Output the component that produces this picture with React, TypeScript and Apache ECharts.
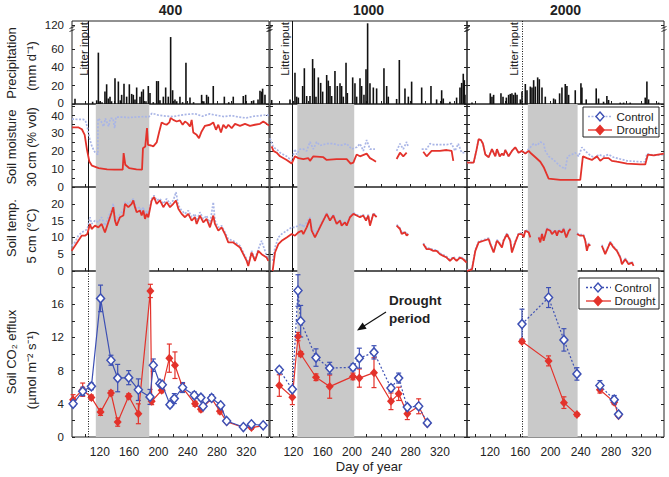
import React, { useEffect, useRef } from 'react';
import * as echarts from 'echarts';

const FONT = '"Liberation Sans", Arial, Helvetica, sans-serif';
const RED = '#e3322b';
const PALE = '#a9b5e6';
const BLUE = '#3d50b4';
const SHADE = '#c9c9c9';
const INK = '#222';

// ---- study sites and events (day of year) ----
const sites = ['400', '1000', '2000'];
const litterDay = [104, 118.5, 162.5];
const droughtStart = [114.5, 125.3, 170];
const droughtEnd = [187.5, 203, 235.8];

// ---- daily precipitation, [day, mm] ----
const rain400 = [
  [86.1, 5.8], [110.2, 2.5], [115.7, 4], [118, 56], [120.2, 3], [123, 2], [127, 13.5], [129.3, 21.5], [131.6, 6],
  [133.9, 8], [136, 3], [140.7, 28], [145.3, 24.5], [148, 4], [149.8, 10], [153, 22], [156.6, 8], [160.3, 21.5],
  [163.5, 11], [165.7, 10], [168, 5], [170.3, 18], [174.8, 8], [177.1, 13.5], [179.4, 16], [183, 3], [186.2, 19.6],
  [188.5, 12], [193, 2], [197.6, 25], [199.9, 25], [202.1, 4], [206.7, 8], [209.9, 18], [213.5, 8], [216.7, 73],
  [219.4, 15], [222.6, 5], [225, 3], [229.4, 8], [233, 2], [237.6, 45], [243.1, 7], [248, 2], [259, 10], [262, 3],
  [265.8, 10], [268.1, 8], [274.9, 19.6], [290, 8], [296, 2], [302.2, 8], [315.9, 8.7], [319.1, 10], [327.3, 3.3],
  [330, 4], [336, 5], [338.7, 14.5], [341, 13.5], [342.3, 16.7], [345.5, 10],
];
const rain1000 = [
  [90.3, 4.4], [115.3, 5], [122.1, 34], [124.4, 8], [126.7, 7], [132.6, 19.6], [134.9, 39], [138.1, 8.7], [142.6, 8.7],
  [146.2, 49], [148.5, 39], [150.8, 8], [154, 29], [157.2, 23], [159.9, 13.5], [165.4, 31.6], [167.6, 25.5],
  [169.9, 19.6], [172.2, 8.7], [176.7, 36], [179.9, 19.6], [183.6, 22.5], [185.8, 19.6], [188.1, 8], [191.8, 45],
  [193.6, 12], [200.9, 29], [204, 22.5], [206.3, 8], [210.9, 28], [213.1, 19.6], [216.3, 10], [219.1, 38],
  [221.3, 88], [224.5, 22.5], [229.1, 18], [233.6, 17], [243.6, 39], [247.3, 19.6], [249.5, 8], [260.9, 5.5],
  [264.6, 48], [272.3, 17], [276.9, 8], [281.4, 24.4], [295.1, 18], [307.8, 19.6], [315.5, 5], [322.4, 15],
  [324.6, 6], [333.7, 2.5], [342.8, 7], [347.4, 18], [349.7, 23], [351.9, 33], [353.3, 26], [354.2, 10],
];
const rain2000 = [
  [96.2, 1.5], [120.4, 11.6], [122.6, 8], [124.8, 10], [134.5, 11.6], [137.2, 8], [141.6, 7], [144.6, 10], [146.8, 11],
  [149, 11.6], [151.2, 10], [153.4, 12.4], [155.7, 10], [160.1, 5], [162.3, 13.5], [166.7, 21.8], [168.9, 15],
  [173.3, 19], [175.5, 18], [177.7, 26], [179.9, 19], [183, 29], [185.2, 27], [188.7, 18], [193.1, 8], [204.1, 6],
  [206.3, 5], [212, 11.6], [215.1, 18], [219.5, 21.8], [221.7, 19.6], [223.9, 10], [232.7, 15], [240.2, 22.5],
  [241.5, 18], [247.2, 5], [260.4, 17], [263.5, 6], [270.1, 2.5], [274.5, 8.7], [276.7, 4.4], [292.2, 1.5],
  [296.6, 1.5], [305.4, 1.5], [325.2, 7], [327.4, 24.4], [329.6, 5], [342.8, 1.5],
];

// ---- soil moisture at 30 cm, [day, % vol]; '-' marks missing records ----
const moist400Control = [
  [82, 37.6], [90, 37.5], [97, 37.5], [100.2, 37], [103, 33], [106, 27], [109.3, 22.4], [113, 19.5], [116.1, 18.4],
  [117.3, 18], [117.5, 38], [121, 37], [125.2, 33.5], [127.5, 38], [132, 33.5], [134.3, 38], [138, 38], [140.2, 32.6],
  [142, 38.7], [150, 38.8], [160, 38.5], [170, 38.8], [180, 39], [186.7, 38.8], [191.2, 40.9], [200, 39.8],
  [210, 39.3], [220, 39], [230, 39.8], [240, 40.3], [250, 40.6], [260, 39.2], [270, 40.5], [280, 39.7], [290, 39],
  [300, 39.6], [310, 38.7], [320, 38.3], [330, 39.2], [340, 39.6], [348, 40], [351, 39.5],
];
const moist400Drought = [
  [82, 33.1], [91, 33], [95.5, 32], [99.3, 28.9], [102.5, 20.6], [105.7, 14.1], [109.3, 11.8], [118.4, 10.5],
  [130, 9.8], [140, 9.6], [151.2, 9.6], [152.5, 18.8], [154.8, 12.3], [160, 10.5], [170, 9.8], [177.6, 9.6],
  [178.9, 21.5], [182, 22.4], [184.4, 32.6], [185.8, 23.3], [190, 23], [193, 22.5], [197.6, 24.7], [201.2, 30.8],
  [204.4, 35.8], [207.6, 35], [211.2, 34.5], [214.9, 35.8], [216.7, 38.2], [220.3, 37.2], [224.9, 36.3],
  [229.4, 36.9], [233.1, 34.5], [236.3, 36.3], [239.5, 35.4], [243.1, 33.5], [245.4, 37.2], [247.6, 30.2],
  [252.2, 28.9], [255.4, 27.1], [259, 30.8], [263.6, 33.9], [270.4, 34.5], [274.9, 35.8], [278.6, 31.7],
  [281.8, 34.5], [285.4, 30.2], [288.6, 34.5], [292.3, 32.6], [295.5, 34.5], [300, 32.6], [304.6, 35],
  [311.4, 33.9], [318.2, 35], [325, 33.9], [331.8, 34.5], [338.7, 35], [343.2, 36.3], [347.8, 35], [351, 34],
];
const moist1000Control = [
  [88, 27], [92.6, 22], [97.1, 21], [101.7, 19], [110.8, 17], [117.6, 14.5], [122.1, 21], [124.4, 18], [129, 21],
  [133.5, 21], [138.1, 20], [142.6, 25], [147.2, 21], [151.7, 25], [156.3, 23], [165.4, 24], [174.5, 24],
  [183.6, 23], [192.7, 24], [199.5, 21], [206.3, 22], [210.9, 24], [215.4, 20], [220, 26], [224.5, 21],
  [231.3, 21], [245, '-'], [260.9, 20], [265.5, 24], [270, 21], [274.6, 25], [276.9, 22], [285, '-'], [295.1, 21],
  [301.9, 21], [306.4, 24], [311, 23.5], [329.2, 23.5], [336, 24], [340.6, 20], [345.1, 24], [349.7, 19],
  [354.2, 19],
];
const moist1000Drought = [
  [90.3, 22.5], [92.6, 20], [97.1, 19], [101.7, 17], [110.8, 15], [117.6, 13], [122.1, 17], [126.7, 16],
  [133.5, 15.5], [140.3, 16], [142.6, 14.5], [147.2, 17], [160.8, 16.5], [165.4, 15], [179, 15.5], [192.7, 15.5],
  [198.1, 13], [201.8, 13.5], [206.3, 18], [210.9, 17], [220, 18.5], [224.5, 16], [229.1, 15], [232.7, 14],
  [245, '-'], [260.9, 15.5], [265.5, 19], [270, 17], [274.6, 19], [285, '-'], [297.3, 19.5], [301.9, 17],
  [308.7, 20], [320.1, 20], [329.2, 20.5], [336, 20], [338.3, 14.5],
];
const moist2000Control = [
  [89.6, 13.5], [98.4, 13.5], [101.9, 20], [105, 26.5], [108.1, 26], [110.7, 24], [113.8, 18], [118.2, 16.5],
  [122.6, 21], [127, 17], [129.2, 21], [132.8, 17], [135.8, 18.5], [138, 17.5], [140.2, 20.5], [144.6, 17],
  [149, 20], [153.4, 22], [157.8, 19], [162.3, 20], [166.7, 18.5], [171.1, 21], [173.3, 22], [177.7, 24],
  [182.1, 23], [186.5, 25], [190.9, 24], [193.1, 20], [197.5, 17], [204.1, 15], [212.9, 11.5], [219.5, 10],
  [222.6, 17], [228.3, 18], [232.7, 19], [237.1, 17], [241.5, 22], [245.9, 20], [252.5, 17.5], [259.1, 16],
  [263.5, 18], [270.1, 17], [276.7, 18], [283.3, 16.5], [301, 14.5], [318.6, 14], [325.2, 14], [327.4, 18.5],
  [336.2, 17.5], [349.8, 18],
];
const moist2000Drought = [
  [89.6, 13.5], [98.4, 13.5], [101.9, 20], [105, 26.5], [108.1, 26], [110.7, 24], [113.8, 18], [118.2, 16.5],
  [122.6, 21], [127, 17], [129.2, 21], [132.8, 17], [135.8, 18.5], [138, 17.5], [140.2, 20.5], [144.6, 17],
  [149, 20], [153.4, 22], [157.8, 19], [162.3, 20], [166.7, 18.5], [171.1, 20], [173.3, 19], [180, 16.5],
  [186.5, 14], [191, 11], [194.5, 7.5], [197.5, 4.6], [212.9, 4], [239.3, 4], [242.8, 17], [248.1, 16],
  [254.7, 15], [261.3, 17], [265.7, 14.5], [270.1, 16], [276.7, 16], [281.1, 14.5], [287.7, 14], [301, 13],
  [318.6, 12.5], [325.2, 12.5], [328.7, 18], [336.2, 17.5], [349.8, 18.5],
];

// ---- soil temperature at 5 cm, [day, °C] ----
const temp400Control = [
  [81.5, 7.5], [86, 8.5], [90.6, 10.5], [95.2, 11.5], [99.7, 12], [102.9, 12.5], [106.6, 16], [108.8, 14],
  [113.4, 15], [118, 14.5], [122.5, 16], [127, 13.5], [131.6, 16], [136.2, 18.5], [138.4, 20], [140.7, 16.5],
  [143, 15], [147.5, 17], [152.1, 18], [154.4, 20.5], [158.9, 20], [163.5, 21], [165.7, 21.5], [168, 20],
  [170.3, 18.5], [174.8, 19], [177.1, 17.5], [179.4, 19], [181.7, 16.5], [183.9, 18], [186.2, 17], [190.8, 21.5],
  [194, 22.5], [197.6, 21], [202.1, 21.5], [206.7, 20], [211.2, 21.5], [215.8, 20], [220.3, 21], [224, 23.5],
  [227.2, 19.5], [231.7, 18], [236.3, 17], [240.8, 18], [245.4, 16], [249.9, 17], [252.2, 15], [256.7, 17.5],
  [261.3, 15.5], [265.8, 16.5], [270.4, 14], [274.9, 20.5], [277.2, 15], [281.8, 13], [286.3, 13.5],
  [290.9, 11.5], [295.4, 9.5], [302.2, 9], [311.4, 7.5], [315.9, 5.5], [320.5, 3.5], [322.7, 2], [327.3, 6],
  [331.8, 3.5], [336.4, 6.5], [340.9, 9], [347.8, 4.5], [350, 3.5],
];
const temp400Drought = [
  [81.5, 6], [86.1, 7.5], [90.6, 9], [95.2, 10.5], [99.7, 10.5], [102.9, 11], [106.6, 14], [108.8, 12.5],
  [113.4, 13.5], [118, 13], [122.5, 14], [127, 11.5], [131.6, 14.5], [136.2, 17.5], [138.4, 19], [140.7, 15],
  [143, 13.5], [147.5, 16], [152.1, 16.5], [154.4, 20], [158.9, 19], [163.5, 20], [165.7, 21], [168, 19],
  [170.3, 17.5], [174.8, 18], [177.1, 16.5], [179.4, 18], [181.7, 15.5], [183.9, 17], [186.2, 16], [190.8, 21],
  [194, 22], [197.6, 20], [202.1, 21], [206.7, 19], [211.2, 20.5], [215.8, 19], [220.3, 20], [224, 21],
  [227.2, 18.5], [231.7, 17], [236.3, 16], [240.8, 17], [245.4, 15], [249.9, 16], [252.2, 14], [256.7, 16.5],
  [261.3, 14.5], [265.8, 15.5], [270.4, 13], [274.9, 16.5], [277.2, 14], [281.8, 12], [286.3, 13], [290.9, 11],
  [295.4, 8.5], [302.2, 8.5], [311.4, 7], [315.9, 5], [320.5, 3], [322.7, 1.5], [327.3, 5.5], [331.8, 3],
  [336.4, 6], [340.9, 5], [347.8, 4], [350, 3],
];
const temp1000Control = [
  [91.6, 3], [94.8, 7], [99.4, 10], [103.9, 11], [110.8, 12], [117.6, 13], [122.1, 13], [126.7, 13.5], [131.2, 14],
  [133.5, 13], [138.1, 14.5], [142.6, 16], [144.9, 13], [149.4, 11], [154, 12.5], [158.5, 14.5], [165.4, 17.3],
  [169.9, 15.3], [174.5, 16.8], [179, 14.3], [183.6, 15.3], [185.8, 13.8], [190.4, 14.8], [192.7, 13.8],
  [197.2, 16.3], [201.8, 17.3], [206.3, 16.8], [210.9, 16.3], [215.4, 16.8], [219.1, 15.3], [222.2, 16.8],
  [224.5, 13.8], [229.1, 17.3], [233.6, 16.3], [245, '-'], [260.9, 13.8], [265.5, 12.8], [267.8, 11.3],
  [272.3, 11.8], [274.6, 10.8], [276.9, 11.3], [285, '-'], [297.3, 8.3], [301.9, 6.8], [306.4, 6.8], [311, 6.3],
  [315.5, 6.3], [320.1, 5.3], [324.6, 4.8], [329.2, 4.3], [333.7, 3.3], [338.3, 4.3], [342.8, 3.3], [347.4, 4.3],
  [351.9, 3.8], [356.5, 2.8],
];
const temp1000Drought = [
  [91.6, 0], [94.8, 5.5], [99.4, 8], [103.9, 9], [110.8, 10], [117.6, 11], [122.1, 10.5], [126.7, 11.5], [131.2, 12],
  [133.5, 11], [138.1, 13], [142.6, 15.5], [144.9, 12], [149.4, 10], [154, 12], [158.5, 14], [165.4, 17],
  [169.9, 15], [174.5, 16.5], [179, 14], [183.6, 15], [185.8, 13.5], [190.4, 14.5], [192.7, 13.5], [197.2, 16],
  [201.8, 17], [206.3, 16.5], [210.9, 16], [215.4, 16.5], [219.1, 15], [222.2, 16.5], [224.5, 13.5], [229.1, 17],
  [233.6, 16], [245, '-'], [260.9, 13.5], [265.5, 12.5], [267.8, 11], [272.3, 11.5], [274.6, 10.5], [276.9, 11],
  [285, '-'], [297.3, 8], [301.9, 6.5], [306.4, 6.5], [311, 6], [315.5, 6], [320.1, 5], [324.6, 4.5], [329.2, 4],
  [333.7, 3], [338.3, 4], [342.8, 3], [347.4, 4], [351.9, 3.5], [356.5, 2.5],
];
const temp2000Control = [
  [89.6, 0.3], [96.2, 0.8], [100.6, 6.3], [105, 8.8], [111.6, 9.3], [118.2, 9.8], [120.4, 8.3], [124.8, 5.8],
  [129.2, 9.3], [131.4, 8.8], [135.8, 7.3], [138, 9.3], [142.4, 11.3], [146.8, 9.3], [149, 5.8], [153.4, 8.8],
  [157.8, 11.3], [162.3, 11.3], [164.5, 10.3], [166.7, 12.3], [171.1, 11.8], [173.3, 10.3], [178, '-'],
  [184.3, 10.3], [186.5, 8.8], [188.7, 11.3], [190.9, 9.3], [195.3, 12.8], [199.7, 12.3], [201.9, 11.3],
  [206.3, 12.3], [208.5, 10.8], [210.7, 12.3], [215.1, 11.8], [217.3, 12.8], [220.8, 10.3], [224.3, 12.3],
  [226.5, 12.8], [230, '-'], [234.9, 11.3], [239.3, 10.8], [243.7, 10.8], [245.9, 9.3], [248.1, 6.3], [250.3, 8.3],
  [252.5, 7.8], [260, '-'], [267.9, 7.8], [272.3, 5.3], [279, 8.8], [283.3, 7.3], [287.7, 6.3], [292.2, 4.3],
  [294.4, 2.3], [298.8, 3.8], [303.2, 2.3], [307.6, 2.8], [309.8, 1.8],
];
const temp2000Drought = [
  [89.6, 0], [96.2, 0.5], [100.6, 6], [105, 8.5], [111.6, 9], [118.2, 9.5], [120.4, 8], [124.8, 5.5], [129.2, 9],
  [131.4, 8.5], [135.8, 7], [138, 9], [142.4, 11], [146.8, 9], [149, 5.5], [153.4, 8.5], [157.8, 11], [162.3, 11],
  [164.5, 10], [166.7, 12], [171.1, 11.5], [173.3, 10], [178, '-'], [184.3, 10], [186.5, 8.5], [188.7, 11],
  [190.9, 9], [195.3, 12.5], [199.7, 12], [201.9, 11], [206.3, 12], [208.5, 10.5], [210.7, 12], [215.1, 11.5],
  [217.3, 12.5], [220.8, 10], [224.3, 12], [226.5, 12.5], [230, '-'], [234.9, 11], [239.3, 10.5], [243.7, 10.5],
  [245.9, 9], [248.1, 6], [250.3, 8], [252.5, 7.5], [260, '-'], [267.9, 7.5], [272.3, 5], [279, 8.5], [283.3, 7],
  [287.7, 6], [292.2, 4], [294.4, 2], [298.8, 3.5], [303.2, 2], [307.6, 2.5], [309.8, 1.5],
];

// ---- soil CO2 efflux, [day, µmol m-2 s-1, standard error]; '-' marks a break ----
const co2_400Control = [
  [83.5, 4.0, 0.3], [96.6, 5.5, 0.5], [108.5, 6.1, 0.4], [121, 16.7, 1.6], [135.2, 9.25, 0.6], [144.4, 7.1, 1.65],
  [159.4, 7.15, 0.85], [172.6, 5.7, 1.3], [188.5, 4.83, 0.9], [193, 8.65, 0.75], [202, 6.44, 0.3], [205.3, 6.3, 0.3],
  [215.8, 3.9, 0.3], [221.7, 4.63, 0.6], [233, 5.96, 0.6], [249, 5.03, 0.4], [258, 4.75, 0.3], [261, 3.7, 0.25],
  [272.7, 4.7, 0.4], [285, 3.82, 0.3], [293.2, 1.93, 0.2], [316, 1.2, 0.15], [327, 1.53, 0.15], [343, 1.41, 0.1],
];
const co2_400Drought = [
  [83.5, 4.5, 0.6], [96.6, 5.7, 0.8], [108.5, 4.75, 0.3], [121, 3.0, 0.4], [135.2, 5.3, 0.3], [144.4, 1.8, 0.5],
  [159.4, 4.9, 0.3], [172.6, 2.8, 1.2], [189, 17.6, 0.8], [190.8, 4.3, 0.4], [204.5, 5.63, 0.3], [214.9, 9.5, 1.7],
  [222.6, 8.65, 1.6], [233, 5.96, 0.5], [250, 4.0, 0.3], [258, 3.34, 0.3], [272.7, 4.63, 0.3], [284, 3.1, 0.3],
  [293.2, 1.85, 0.2], [316, 1.15, 0.1], [327, 1.13, 0.2], [343, 1.35, 0.1],
];
const co2_1000Control = [
  [100.7, 8.1, 0.3], [118.5, 5.75, 0.3], [126.2, 17.65, 1.9], [129.9, 13.95, 1.9], [150.8, 9.57, 1.05],
  [169.5, 8.3, 0.7], [201.3, 8.4, 0.4], [210, 9.5, 1.2], [230, 10.2, 0.8], [253.2, 5.9, 0.4], [263.7, 7.1, 0.6],
  [275.5, 3.6, 0.3], [291, 3.7, 0.3], [302.8, 1.7, 0.2],
];
const co2_1000Drought = [
  [100.7, 6.2, 1.3], [118.5, 4.8, 0.9], [126.2, 12.1, 0.5], [129.9, 10.0, 0.3], [150.8, 7.2, 0.4],
  [169.5, 6.07, 1.4], [201.3, 7.3, 0.4], [210, 7.1, 1.1], [230, 7.75, 1.8], [253.2, 4.3, 1.0], [263.7, 5.2, 0.8],
  [275.5, 2.8, 0.7], [291, 3.7, 0.9], [302.8, 1.6, 0.2],
];
const co2_2000Control = [
  [162.3, 13.6, 1.8], [197.4, 16.8, 1.2], [217.7, 11.7, 1.35], [234.9, 7.6, 0.75], [250, '-', 0],
  [265.3, 6.2, 0.6], [284.2, 4.5, 0.5], [289.9, 2.73, 0.2],
];
const co2_2000Drought = [
  [162.3, 11.5, 0.2], [197.4, 9.17, 0.6], [217.7, 4.14, 0.7], [234.9, 2.7, 0.2], [250, '-', 0],
  [265.3, 5.7, 0.4], [284.2, 4.2, 0.3], [289.9, 2.57, 0.2],
];

// ---- axis ticks ----
const dayTicks = [100, 120, 140, 160, 180, 200, 220, 240, 260, 280, 300, 320, 340];
const dayLabels = [120, 160, 200, 240, 280, 320];
const rainTicks = [0, 20, 40, 60, 86]; // broken axis: the top mark stands for 120 mm
const moistTicks = [0, 5, 10, 15, 20, 25, 30, 35, 40, 45];
const moistLabels = [0, 10, 20, 30, 40];
const tempTicks = [0, 5, 10, 15, 20];
const co2Ticks = [0, 2, 4, 6, 8, 10, 12, 14, 16, 18];
const co2Labels = [0, 4, 8, 12, 16];

const rain = [rain400, rain1000, rain2000];
const moist = [
  [moist400Control, moist400Drought],
  [moist1000Control, moist1000Drought],
  [moist2000Control, moist2000Drought],
];
const temp = [
  [temp400Control, temp400Drought],
  [temp1000Control, temp1000Drought],
  [temp2000Control, temp2000Drought],
];
const co2 = [
  [co2_400Control, co2_400Drought],
  [co2_1000Control, co2_1000Drought],
  [co2_2000Control, co2_2000Drought],
];

// panel geometry
const COLS = [
  { left: 72, width: 197, min: 82, max: 351 },
  { left: 270, width: 197, min: 88, max: 357 },
  { left: 467, width: 197, min: 89.6, max: 350 },
];
const ROWS = [
  { top: 21, height: 83, max: 90.5, ticks: rainTicks, labels: rainTicks },
  { top: 104, height: 83, max: 46, ticks: moistTicks, labels: moistLabels },
  { top: 187, height: 84, max: 25, ticks: tempTicks, labels: tempTicks },
  { top: 271, height: 166, max: 20, ticks: co2Ticks, labels: co2Labels },
];

// y label text; the two labels that meet at the panel joint are nudged apart
function yLabel(r: number, v: number) {
  if (r === 0 && v === 86) return '120';
  if (r === 0 && v === 0) return '{lo|0}';
  if (r === 1 && v === 40) return '{hi|40}';
  return String(v);
}

function buildOption() {
  const grid: any[] = [];
  const xAxis: any[] = [];
  const yLeft: any[] = [];
  const yRight: any[] = [];
  const series: any[] = [];

  ROWS.forEach((row, r) => {
    COLS.forEach((col, c) => {
      const idx = r * 3 + c;
      grid.push({
        left: col.left, top: row.top, width: col.width, height: row.height,
        show: true, borderColor: INK, borderWidth: 1, backgroundColor: 'transparent',
      });
      xAxis.push({
        type: 'value', gridIndex: idx, min: col.min, max: col.max,
        axisLine: { show: false }, splitLine: { show: false },
        axisTick: {
          show: true, inside: true, length: 3, lineStyle: { color: INK },
          customValues: dayTicks.filter((d) => d > col.min && d < col.max),
        },
        axisLabel: {
          show: r === 3, customValues: dayLabels, color: INK, fontSize: 12, fontFamily: FONT, margin: 9,
        },
      });
      const yBase = {
        type: 'value', gridIndex: idx, min: 0, max: row.max,
        axisLine: { show: false }, splitLine: { show: false },
        axisTick: { show: true, inside: true, length: 3, lineStyle: { color: INK }, customValues: row.ticks },
      };
      yLeft.push({
        ...yBase,
        axisLabel: {
          show: c === 0, customValues: row.labels, color: INK, fontSize: 11.5, fontFamily: FONT, margin: 8,
          formatter: (v: number) => yLabel(r, v),
          rich: {
            lo: { fontSize: 11.5, fontFamily: FONT, color: INK, padding: [0, 0, 3, 0] },
            hi: { fontSize: 11.5, fontFamily: FONT, color: INK, padding: [3, 0, 0, 0] },
          },
        },
      });
      yRight.push({ ...yBase, position: 'right', axisLabel: { show: false } });

      const onAxes = { xAxisIndex: idx, yAxisIndex: idx };

      // drought shading
      if (r > 0) {
        series.push({
          type: 'custom', ...onAxes, z: 1, silent: true,
          data: [[droughtStart[c], droughtEnd[c]]],
          renderItem: (params: any, api: any) => {
            const cs = params.coordSys;
            const a = api.coord([api.value(0), 0])[0];
            const b = api.coord([api.value(1), 0])[0];
            return { type: 'rect', shape: { x: a, y: cs.y, width: b - a, height: cs.height }, style: { fill: SHADE } };
          },
        });
      }

      // litter input marker
      const dotted = c === 2 || r === 3;
      series.push({
        type: 'custom', ...onAxes, z: 3, silent: true,
        data: [[litterDay[c], 0]],
        renderItem: (params: any, api: any) => {
          const cs = params.coordSys;
          const x = Math.round(api.coord([api.value(0), 0])[0]) + 0.5;
          return {
            type: 'line',
            shape: { x1: x, y1: cs.y, x2: x, y2: cs.y + cs.height },
            style: { stroke: '#111', lineWidth: 1, lineDash: dotted ? [1, 1.5] : null },
          };
        },
      });

      if (r === 0) {
        series.push({
          type: 'bar', ...onAxes, data: rain[c], barWidth: 1.6, itemStyle: { color: '#111' }, z: 4,
        });
      } else if (r === 1 || r === 2) {
        const [ctl, dry] = r === 1 ? moist[c] : temp[c];
        series.push({
          type: 'line', ...onAxes, data: ctl, symbol: 'none', connectNulls: false, z: 4,
          lineStyle: { color: PALE, width: 1.7, type: [2, 1.5] },
        });
        series.push({
          type: 'line', ...onAxes, data: dry, symbol: 'none', connectNulls: false, z: 5,
          lineStyle: { color: RED, width: 1.8 },
        });
      } else {
        const [ctl, dry] = co2[c];
        const errBar = (rows: any[], color: string) => ({
          type: 'custom', ...onAxes, z: 4, silent: true,
          data: rows.filter((d) => d[1] !== '-').map((d) => [d[0], d[1] - d[2], d[1] + d[2]]),
          encode: { x: 0, y: [1, 2] },
          renderItem: (params: any, api: any) => {
            const p1 = api.coord([api.value(0), api.value(1)]);
            const p2 = api.coord([api.value(0), api.value(2)]);
            const w = 2.5;
            const st = { stroke: color, lineWidth: 1.2 };
            return {
              type: 'group',
              children: [
                { type: 'line', shape: { x1: p1[0], y1: p1[1], x2: p2[0], y2: p2[1] }, style: st },
                { type: 'line', shape: { x1: p1[0] - w, y1: p1[1], x2: p1[0] + w, y2: p1[1] }, style: st },
                { type: 'line', shape: { x1: p2[0] - w, y1: p2[1], x2: p2[0] + w, y2: p2[1] }, style: st },
              ],
            };
          },
        });
        series.push(errBar(dry, RED));
        series.push(errBar(ctl, BLUE));
        series.push({
          type: 'line', ...onAxes, z: 6, data: dry.map((d) => [d[0], d[1]]), connectNulls: false,
          symbol: 'diamond', symbolSize: [8, 9], showSymbol: true,
          lineStyle: { color: RED, width: 1.2 }, itemStyle: { color: RED },
        });
        series.push({
          type: 'line', ...onAxes, z: 7, data: ctl.map((d) => [d[0], d[1]]), connectNulls: false,
          symbol: 'diamond', symbolSize: [8, 9], showSymbol: true,
          lineStyle: { color: BLUE, width: 1.2, type: c === 0 ? 'solid' : [2, 2] },
          itemStyle: { color: '#fff', borderColor: BLUE, borderWidth: 1.5 },
        });
      }
    });
  });

  const font = (size: number, weight = 'normal') => `${weight} ${size}px ${FONT}`;
  const text = (x: number, y: number, t: string, size = 13, opts: any = {}) => ({
    type: 'text', x, y, rotation: opts.rot || 0, silent: true, z: 100,
    style: {
      text: t, font: font(size, opts.weight || 'normal'), fill: opts.color || INK,
      align: opts.align || 'center', textAlign: opts.align || 'center',
      verticalAlign: 'middle', textVerticalAlign: 'middle',
    },
  });
  const diamond = (cx: number, cy: number, filled: boolean, color: string) => ({
    type: 'polygon', z: 101, silent: true,
    shape: { points: [[cx, cy - 4.5], [cx + 4, cy], [cx, cy + 4.5], [cx - 4, cy]] },
    style: { fill: filled ? color : '#fff', stroke: color, lineWidth: 1.4 },
  });
  const legend = (bx: number, by: number, bw: number, bh: number, x1: number, x2: number, mx: number, tx: number,
    y1: number, y2: number, ctlLine: string, ctlDash: any) => [
    { type: 'rect', z: 99, silent: true, shape: { x: bx, y: by, width: bw, height: bh }, style: { fill: '#fff', stroke: INK, lineWidth: 1 } },
    { type: 'line', z: 100, silent: true, shape: { x1, y1, x2, y2: y1 }, style: { stroke: ctlLine, lineWidth: 1.3, lineDash: ctlDash } },
    diamond(mx, y1, false, BLUE),
    text(tx, y1, 'Control', 11.5, { align: 'left' }),
    { type: 'line', z: 100, silent: true, shape: { x1, y1: y2, x2, y2 }, style: { stroke: RED, lineWidth: 1.3 } },
    diamond(mx, y2, true, RED),
    text(tx, y2, 'Drought', 11.5, { align: 'left' }),
  ];

  const rot = Math.PI / 2;
  const graphic: any[] = [
    text(170.5, 10, sites[0], 14, { weight: 'bold' }),
    text(368.5, 10, sites[1], 14, { weight: 'bold' }),
    text(565.5, 10, sites[2], 14, { weight: 'bold' }),
    text(11, 63, 'Precipitation', 13, { rot }),
    text(31, 66, '(mm d⁻¹)', 13, { rot }),
    text(11, 147, 'Soil moisture', 13, { rot }),
    text(31, 147, '30 cm (% vol)', 13, { rot }),
    text(11, 228, 'Soil temp.', 13, { rot }),
    text(31, 236, '5 cm (°C)', 13, { rot }),
    text(11, 352, 'Soil CO₂ efflux', 13, { rot }),
    text(31, 370, '(µmol m⁻² s⁻¹)', 13, { rot }),
    text(369, 466, 'Day of year', 13),
    text(83.5, 49, 'Litter input', 11.5, { rot }),
    text(284.5, 49, 'Litter input', 11.5, { rot }),
    text(513.5, 49, 'Litter input', 11.5, { rot }),
    text(389, 300, 'Drought', 13.5, { weight: 'bold', align: 'left' }),
    text(389, 318, 'period', 13.5, { weight: 'bold', align: 'left' }),
    { type: 'line', z: 100, silent: true, shape: { x1: 386, y1: 312, x2: 364, y2: 326 }, style: { stroke: '#111', lineWidth: 1.2 } },
    { type: 'polygon', z: 100, silent: true, shape: { points: [[357, 330.5], [362.6, 322.6], [366.6, 328.8]] }, style: { fill: '#111' } },
    ...legend(583, 107, 76, 30, 588, 612, 600, 616.5, 116.5, 130, PALE, [2, 1.5]),
    ...legend(579, 278, 80, 31, 586, 611, 598, 614.5, 287.5, 301, BLUE, [2, 2]),
  ];

  // small break marks on the precipitation axes
  COLS.forEach((col) => {
    [col.left, col.left + col.width].forEach((x) => {
      [27.5, 30.5].forEach((y) => {
        graphic.push({
          type: 'line', z: 100, silent: true,
          shape: { x1: x - 2.5, y1: y + 1, x2: x + 2.5, y2: y - 1 },
          style: { stroke: INK, lineWidth: 0.9 },
        });
      });
    });
  });

  return {
    animation: false,
    backgroundColor: '#fff',
    grid,
    xAxis,
    yAxis: [...yLeft, ...yRight],
    series,
    graphic,
  };
}

export default function App() {
  const ref = useRef<HTMLDivElement>(null);
  useEffect(() => {
    if (!ref.current) return;
    const chart = echarts.init(ref.current, undefined, { renderer: 'svg' });
    chart.setOption(buildOption() as any);
    return () => chart.dispose();
  }, []);
  return (
    <div
      ref={ref}
      style={{ position: 'fixed', left: 0, top: 0, width: 669, height: 477, background: '#fff' }}
    />
  );
}
